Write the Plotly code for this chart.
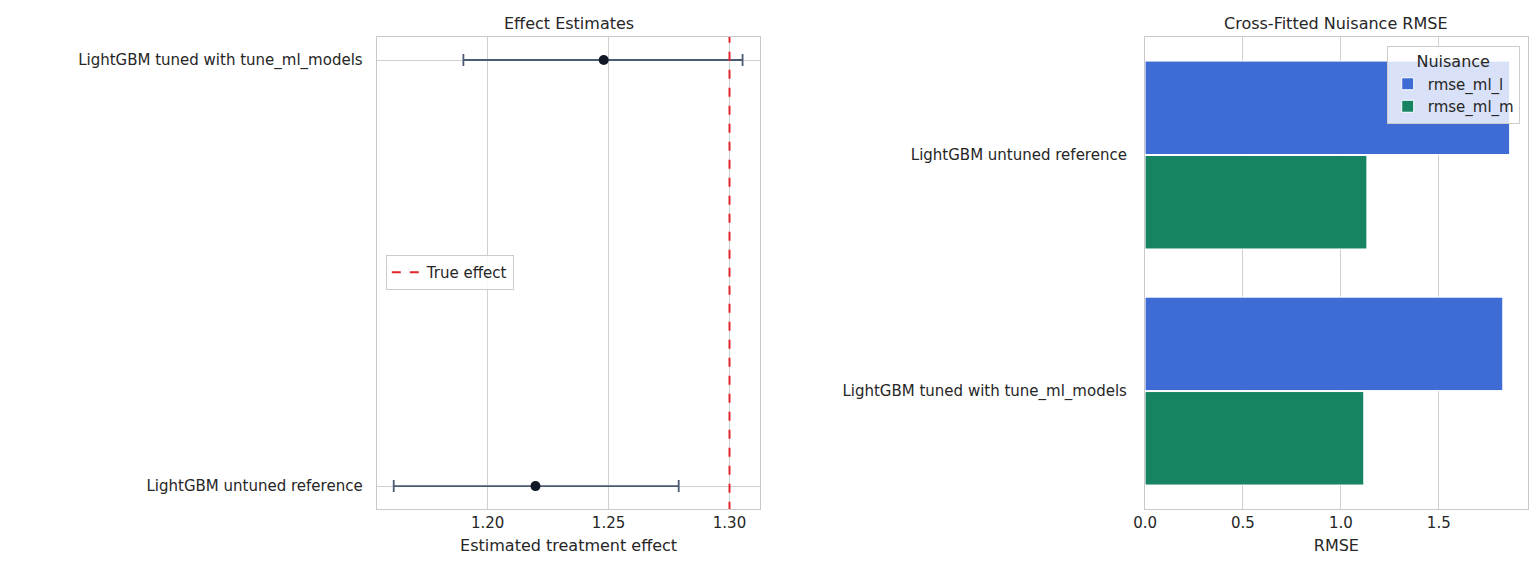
import plotly.graph_objects as go

# effect estimates
models = ["LightGBM untuned reference", "LightGBM tuned with tune_ml_models"]
estimates = [1.2198, 1.248]
ci_low = [1.1612, 1.190]
ci_high = [1.279, 1.3054]
true_effect = 1.30

# nuisance RMSE
rmse_models = ["LightGBM untuned reference", "LightGBM tuned with tune_ml_models"]
rmse_ml_l = [1.862, 1.827]
rmse_ml_m = [1.133, 1.117]

FONT = "DejaVu Sans"
TXT = "#262626"
GRID = "#d0d0d0"

fig = go.Figure()

fig.add_trace(go.Scatter(
    x=estimates, y=models, mode="markers",
    marker=dict(color="#111827", size=10),
    error_x=dict(type="data", symmetric=False,
                 array=[h - e for h, e in zip(ci_high, estimates)],
                 arrayminus=[e - l for e, l in zip(estimates, ci_low)],
                 color="#4b5b73", thickness=1.8, width=6),
    showlegend=False, xaxis="x", yaxis="y",
))
fig.add_trace(go.Scatter(
    x=[true_effect, true_effect], y=[-0.1, 1.1], mode="lines",
    line=dict(color="#e3262b", dash="dash", width=2),
    name="True effect", xaxis="x", yaxis="y3", legend="legend",
))

fig.add_trace(go.Bar(x=rmse_ml_l, y=rmse_models, orientation="h", name="rmse_ml_l",
                     marker=dict(color="#3e6cd4", line=dict(color="white", width=1)),
                     xaxis="x2", yaxis="y2", legend="legend2"))
fig.add_trace(go.Bar(x=rmse_ml_m, y=rmse_models, orientation="h", name="rmse_ml_m",
                     marker=dict(color="#168462", line=dict(color="white", width=1)),
                     xaxis="x2", yaxis="y2", legend="legend2"))

ax = dict(showline=True, mirror=True, linecolor="#c8c8c8", linewidth=1.3,
          gridcolor=GRID, gridwidth=1.4, zeroline=False, ticks="",
          tickfont=dict(size=15, color=TXT))

YD = [0.136, 0.950]

fig.update_layout(
    width=1540, height=580, margin=dict(l=0, r=0, t=0, b=0),
    paper_bgcolor="white", plot_bgcolor="white",
    font=dict(family=FONT, size=15, color=TXT),
    barmode="group", bargap=0.2, bargroupgap=0.01,
    xaxis=dict(ax, domain=[0.2335, 0.4846], range=[1.1542, 1.3128],
               tickvals=[1.20, 1.25, 1.30], ticktext=["1.20", "1.25", "1.30"],
               title=dict(text="Estimated treatment effect", font=dict(size=16, color=TXT), standoff=8)),
    yaxis=dict(ax, domain=YD, type="category", categoryorder="array",
               categoryarray=models, range=[-0.054, 1.054], ticklabelstandoff=10),
    yaxis3=dict(domain=YD, range=[-0.054, 1.054], overlaying="y",
                visible=False, anchor="x"),
    xaxis2=dict(ax, domain=[0.7363, 0.9867], range=[0, 1.954],
                tickvals=[0, 0.5, 1.0, 1.5], ticktext=["0.0", "0.5", "1.0", "1.5"],
                title=dict(text="RMSE", font=dict(size=16, color=TXT), standoff=8)),
    yaxis2=dict(ax, domain=YD, type="category", categoryorder="array",
                categoryarray=rmse_models, range=[1.5, -0.5], anchor="x2",
                showgrid=False, ticklabelstandoff=14),
    legend=dict(x=0.2394, y=0.544, xanchor="left", yanchor="middle",
                bgcolor="rgba(255,255,255,0.85)", bordercolor="#cccccc", borderwidth=1,
                font=dict(size=15, color=TXT)),
    legend2=dict(x=0.9815, y=0.935, xanchor="right", yanchor="top",
                 title=dict(text="Nuisance", side="top center", font=dict(size=16, color=TXT)),
                 bgcolor="rgba(255,255,255,0.8)", bordercolor="#cccccc", borderwidth=1,
                 font=dict(size=15, color=TXT)),
    annotations=[
        dict(text="Effect Estimates", x=0.359, y=0.953, xref="paper", yref="paper",
             xanchor="center", yanchor="bottom", showarrow=False, font=dict(size=16, color=TXT)),
        dict(text="Cross-Fitted Nuisance RMSE", x=0.8615, y=0.953, xref="paper", yref="paper",
             xanchor="center", yanchor="bottom", showarrow=False, font=dict(size=16, color=TXT)),
    ],
)

fig.write_html("out.html")
